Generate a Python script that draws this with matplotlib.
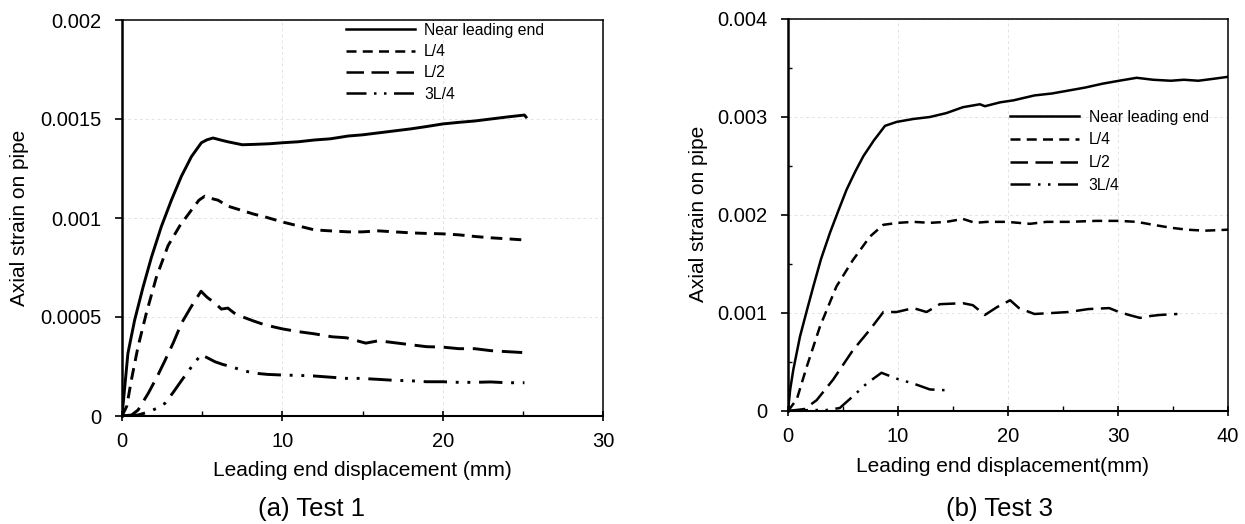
import matplotlib
matplotlib.use("Agg")
import matplotlib.pyplot as plt
from matplotlib.ticker import FixedLocator

plt.rcParams["font.family"] = ["Liberation Sans", "DejaVu Sans"]

# ---- Test 1 (left) ----
t1_near_x = [0, 0.37, 0.79, 1.31, 1.83, 2.45, 3.08, 3.7, 4.33, 4.95, 5.3, 5.68, 6.1, 6.6, 7.5,
             8.3, 9.2, 10.0, 11.0, 12.0, 13.0, 14.1, 15.0, 16.0, 17.0, 18.0, 19.0, 20.0,
             21.0, 22.0, 23.0, 24.0, 25.1, 25.2]
t1_near_y = [0, 0.000317, 0.000485, 0.00065, 0.0008, 0.000956, 0.00109, 0.00121, 0.00131,
             0.00138, 0.001395, 0.001404, 0.001395, 0.001385, 0.00137, 0.001372, 0.001375,
             0.00138, 0.001385, 0.001394, 0.0014, 0.001414, 0.00142, 0.00143, 0.00144,
             0.00145, 0.001462, 0.001475, 0.001483, 0.00149, 0.0015, 0.00151, 0.00152, 0.00151]

t1_l4_x = [0, 0.3, 0.58, 1.0, 1.52, 2.14, 2.87, 3.6, 4.33, 4.8, 5.16, 5.5, 5.99, 6.6, 7.4, 8.2,
           8.9, 10.0, 11.0, 12.0, 13.0, 14.1, 15.0, 16.0, 17.0, 18.0, 19.0, 20.0, 21.0, 22.1,
           23.0, 24.0, 25.1]
t1_l4_y = [0, 0.00005, 0.00018, 0.00035, 0.00052, 0.0007, 0.00086, 0.00096, 0.00104, 0.00109,
           0.00111, 0.0011, 0.00109, 0.00106, 0.00104, 0.00102, 0.001006, 0.00098, 0.00096,
           0.00094, 0.000935, 0.00093, 0.00093, 0.000935, 0.00093, 0.000925, 0.000922,
           0.00092, 0.000915, 0.000906, 0.0009, 0.000895, 0.000889]

t1_l2_x = [0, 0.6, 1.0, 1.64, 2.2, 2.68, 3.2, 3.72, 4.3, 4.93, 5.3, 5.8, 6.2, 6.6, 7.0, 7.47,
           8.2, 8.92, 10.0, 11.0, 12.0, 13.1, 14.0, 15.2, 16.0, 17.0, 18.0, 19.0, 20.0,
           21.0, 22.0, 23.0, 24.0, 25.1]
t1_l2_y = [0, 0.000005, 0.00003, 0.000115, 0.0002, 0.00028, 0.00037, 0.00047, 0.00055, 0.00063,
           0.0006, 0.00057, 0.00054, 0.000545, 0.00052, 0.000502, 0.00048, 0.00046, 0.00044,
           0.000426, 0.000415, 0.0004, 0.000395, 0.000368, 0.00038, 0.00037, 0.00036,
           0.00035, 0.000348, 0.00034, 0.00034, 0.00033, 0.000325, 0.00032]

t1_3l4_x = [0, 1.0, 1.64, 2.2, 2.68, 3.2, 3.72, 4.35, 4.93, 5.3, 5.8, 6.3, 6.84, 7.5, 8.3,
            9.1, 9.96, 11.0, 12.0, 13.0, 14.0, 14.85, 16.0, 17.0, 18.0, 19.0, 20.0, 21.0,
            22.0, 23.0, 24.0, 25.1]
t1_3l4_y = [0, 0.000005, 0.00002, 0.00004, 0.000064, 0.00012, 0.00018, 0.00025, 0.00031,
            0.000295, 0.000274, 0.00026, 0.000249, 0.00023, 0.000216, 0.00021, 0.000207,
            0.000205, 0.000202, 0.000196, 0.00019, 0.00019, 0.000185, 0.00018, 0.000178,
            0.000173, 0.000173, 0.00017, 0.00017, 0.000172, 0.000168, 0.000168]

# ---- Test 3 (right) ----
t3_near_x = [0, 0.2, 0.48, 1.09, 1.7, 2.3, 3.0, 3.82, 4.6, 5.33, 6.1, 6.85, 7.8, 8.82, 9.88,
             11.4, 12.9, 14.4, 15.9, 17.45, 17.9, 19.3, 20.5, 22.4, 24.0, 25.5, 27.0, 28.6,
             30.1, 31.7, 33.2, 34.8, 36.0, 37.3, 38.7, 40.0]
t3_near_y = [0, 0.00022, 0.00042, 0.00076, 0.00102, 0.00127, 0.00155, 0.00182, 0.00205,
             0.00226, 0.00244, 0.0026, 0.00276, 0.00291, 0.00295, 0.00298, 0.003, 0.00304,
             0.0031, 0.00313, 0.00311, 0.00315, 0.00317, 0.00322, 0.00324, 0.00327, 0.0033,
             0.00334, 0.00337, 0.0034, 0.00338, 0.00337, 0.00338, 0.00337, 0.00339, 0.00341]

t3_l4_x = [0, 0.8, 1.7, 2.9, 4.4, 5.9, 7.45, 8.67, 10.0, 11.4, 12.9, 14.4, 15.9, 17.0, 18.1,
           19.9, 22.0, 23.5, 25.5, 28.0, 30.1, 31.7, 33.2, 34.8, 36.3, 37.9, 40.0]
t3_l4_y = [0, 0.00012, 0.00045, 0.00086, 0.00127, 0.00154, 0.00178, 0.0019, 0.00192, 0.00193,
           0.00192, 0.00193, 0.00196, 0.00192, 0.00193, 0.00193, 0.00191, 0.00193, 0.00193,
           0.00194, 0.00194, 0.00193, 0.0019, 0.00187, 0.00185, 0.00184, 0.00185]

t3_l2_x = [0, 1.5, 2.6, 4.1, 5.9, 7.45, 8.67, 9.88, 11.4, 12.6, 13.8, 15.9, 16.8, 17.9, 19.0,
           20.2, 21.0, 22.4, 24.0, 25.5, 27.3, 29.2, 30.1, 31.0, 32.0, 33.0, 33.8, 35.4]
t3_l2_y = [0, 0.00002, 0.00011, 0.00032, 0.00062, 0.00083, 0.00101, 0.00101, 0.00105, 0.00101,
           0.00109, 0.0011, 0.00108, 0.00098, 0.00106, 0.00113, 0.00105, 0.00099, 0.001,
           0.00101, 0.00104, 0.00105, 0.00101, 0.00098, 0.00095, 0.00097, 0.00098, 0.00099]

t3_3l4_x = [0, 2.0, 3.5, 4.7, 5.9, 7.15, 8.5, 9.88, 11.4, 12.9, 14.7]
t3_3l4_y = [0, 0.00001, 0.00001, 0.00003, 0.00015, 0.00028, 0.00039, 0.00033, 0.00028,
            0.00022, 0.00021]

labels = ["Near leading end", "L/4", "L/2", "3L/4"]

t1_xticks = [0, 10, 20, 30]
t1_yticks = [0, 0.0005, 0.001, 0.0015, 0.002]
t1_ylabels = ["0", "0.0005", "0.001", "0.0015", "0.002"]
t3_xticks = [0, 10, 20, 30, 40]
t3_yticks = [0, 0.001, 0.002, 0.003, 0.004]
t3_ylabels = ["0", "0.001", "0.002", "0.003", "0.004"]

styles = [None, (4, 2.5), (7, 3), (8, 3, 1, 3, 1, 3)]

W, H = 1245, 524
fig = plt.figure(figsize=(W / 100, H / 100), dpi=100)


def px_axes(x0, x1, ytop, ybot):
    return fig.add_axes([x0 / W, 1 - ybot / H, (x1 - x0) / W, (ybot - ytop) / H])


def style_axes(ax):
    for s in ax.spines.values():
        s.set_linewidth(1.1)
        s.set_color("black")
    ax.spines["left"].set_linewidth(1.8)
    ax.spines["bottom"].set_linewidth(1.5)
    ax.grid(True, which="major", color="#e3e3e3", linestyle=(0, (3, 3)), linewidth=0.7)
    ax.set_axisbelow(True)
    ax.tick_params(axis="y", which="major", direction="out", length=5, width=1.2,
                   labelsize=14.5, pad=10)
    ax.tick_params(axis="y", which="minor", direction="in", length=3, width=1.0)
    ax.tick_params(axis="x", which="major", direction="inout", length=7, width=1.2,
                   labelsize=14.5, pad=8)
    ax.tick_params(axis="x", which="minor", direction="in", length=3.5, width=1.0)


def draw(ax, series, lw):
    for (x, y), lab, ds in zip(series, labels, styles):
        (ln,) = ax.plot(x, y, color="black", lw=lw, label=lab)
        if ds is not None:
            ln.set_dashes(ds)


# left panel
ax1 = px_axes(122, 603, 20, 416)
draw(ax1, [(t1_near_x, t1_near_y), (t1_l4_x, t1_l4_y), (t1_l2_x, t1_l2_y),
           (t1_3l4_x, t1_3l4_y)], 2.1)
ax1.set_xlim(0, 30)
ax1.set_ylim(0, 0.002)
ax1.set_xticks(t1_xticks)
ax1.xaxis.set_minor_locator(FixedLocator([5, 15, 25]))
ax1.set_yticks(t1_yticks, t1_ylabels)
style_axes(ax1)
leg1 = ax1.legend(loc="upper left", bbox_to_anchor=(0.465, 0.993), frameon=False,
                  fontsize=11.3, handlelength=4.4, handletextpad=0.6, labelspacing=0.4,
                  borderpad=0, borderaxespad=0)
for h in leg1.get_lines():
    h.set_linewidth(1.8)

# right panel
ax2 = px_axes(788, 1228, 19, 411)
draw(ax2, [(t3_near_x, t3_near_y), (t3_l4_x, t3_l4_y), (t3_l2_x, t3_l2_y),
           (t3_3l4_x, t3_3l4_y)], 1.8)
ax2.set_xlim(0, 40)
ax2.set_ylim(0, 0.004)
ax2.set_xticks(t3_xticks)
ax2.xaxis.set_minor_locator(FixedLocator([5, 15, 25, 35]))
ax2.set_yticks(t3_yticks, t3_ylabels)
ax2.yaxis.set_minor_locator(FixedLocator([0.0005, 0.0015, 0.0025, 0.0035]))
style_axes(ax2)
leg2 = ax2.legend(loc="upper left", bbox_to_anchor=(0.505, 0.768), frameon=False,
                  fontsize=11.3, handlelength=4.4, handletextpad=0.6, labelspacing=0.48,
                  borderpad=0, borderaxespad=0)
for h in leg2.get_lines():
    h.set_linewidth(1.8)


def ftext(x, y, s, **kw):
    fig.text(x / W, 1 - y / H, s, ha="center", va="center", **kw)


ftext(20, 218, "Axial strain on pipe", rotation=90, fontsize=15)
ftext(698, 214, "Axial strain on pipe", rotation=90, fontsize=15)
ftext(362, 470, "Leading end displacement (mm)", fontsize=15)
ftext(1003, 467, "Leading end displacement(mm)", fontsize=15)
ftext(312, 509, "(a) Test 1", fontsize=18.5)
ftext(1000, 509, "(b) Test 3", fontsize=18.5)

fig.savefig("out.png", dpi=100)
